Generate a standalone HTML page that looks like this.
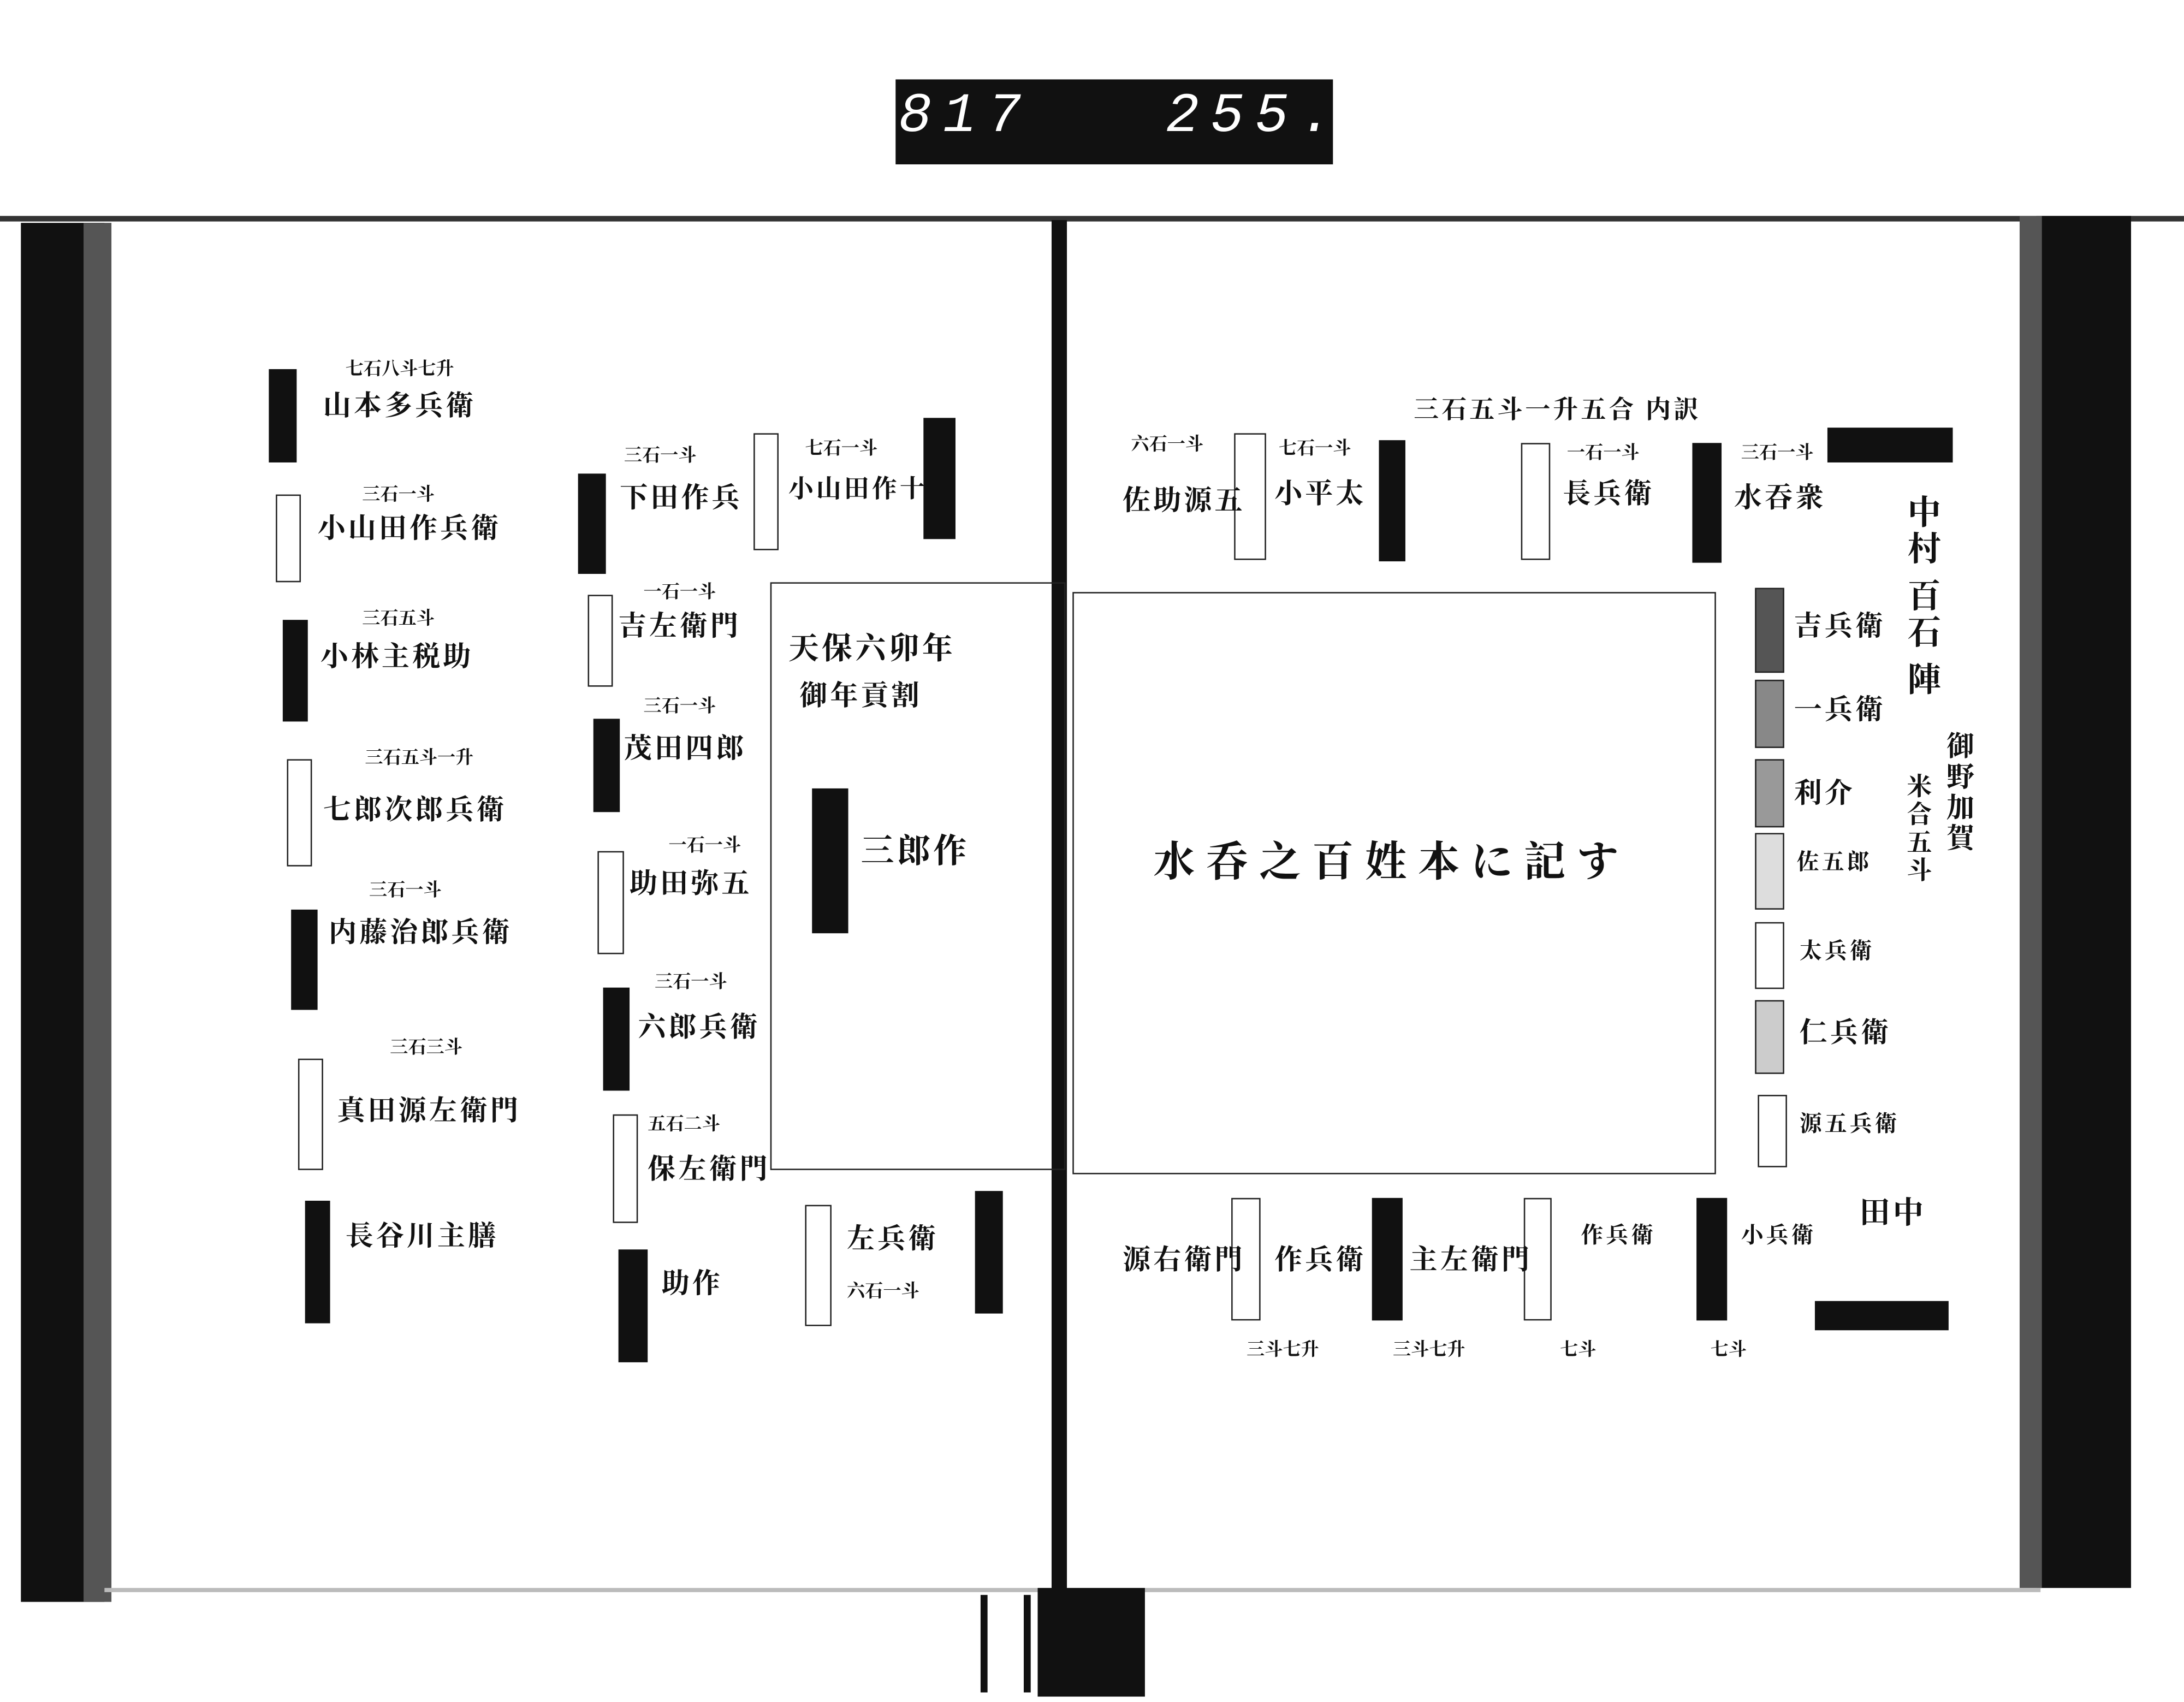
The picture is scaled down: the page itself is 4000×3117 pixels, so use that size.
<!DOCTYPE html>
<html><head><meta charset="utf-8">
<style>
html,body{margin:0;padding:0;background:#fff;}
body{width:4000px;height:3117px;overflow:hidden;position:relative;}
#w{position:absolute;left:0;top:0;width:1568px;height:1222px;transform:scale(2.551);transform-origin:0 0;font-family:"Liberation Serif","Noto Serif CJK SC","Noto Sans CJK JP",serif;color:#111;font-weight:bold;}
.a{position:absolute;}
.b{position:absolute;background:#111;}
.o{position:absolute;border:1.5px solid #222;background:#fff;box-sizing:border-box;}
.g{position:absolute;border:1.5px solid #222;background:#999;box-sizing:border-box;}
.t{position:absolute;font-size:20px;white-space:nowrap;line-height:1;letter-spacing:2px;}
.s{position:absolute;font-size:13px;white-space:nowrap;line-height:1;}
</style></head><body><div id="w">
<div class="b" style="left:643px;top:57px;width:314px;height:61px;"></div>
<div class="a" style="left:645px;top:62px;width:310px;color:#fff;font-family:'Liberation Mono',monospace;font-size:40px;font-style:italic;letter-spacing:8px;font-weight:normal;">817&nbsp;&nbsp;&nbsp;255.</div>
<div class="b" style="left:0;top:155px;width:1568px;height:4px;background:#333;"></div>
<div class="b" style="left:15px;top:160px;width:60px;height:990px;"></div>
<div class="a" style="left:60px;top:160px;width:20px;height:990px;background:#555;"></div>
<div class="b" style="left:1462px;top:155px;width:68px;height:985px;"></div>
<div class="a" style="left:1450px;top:155px;width:16px;height:985px;background:#555;"></div>
<div class="a" style="left:75px;top:1140px;width:1390px;height:3px;background:#bbb;"></div>
<div class="b" style="left:755px;top:158px;width:11px;height:990px;"></div>
<div class="b" style="left:745px;top:1140px;width:77px;height:78px;"></div>
<div class="b" style="left:704px;top:1145px;width:5px;height:70px;"></div>
<div class="b" style="left:735px;top:1145px;width:5px;height:70px;"></div>
<div class="a" style="left:553px;top:418px;width:212px;height:422px;border:1.5px solid #222;box-sizing:border-box;"></div>
<div class="a" style="left:770px;top:425px;width:462px;height:418px;border:1.5px solid #222;box-sizing:border-box;"></div>
<div class="t" style="left:828px;top:605px;font-size:30px;letter-spacing:8px;">水呑之百姓本に記す</div>
<div class="t" style="left:566px;top:455px;font-size:22px;">天保六卯年</div>
<div class="t" style="left:574px;top:490px;font-size:20px;">御年貢割</div>
<div class="t" style="left:618px;top:600px;font-size:24px;">三郎作</div>

<div class="b" style="left:193px;top:265px;width:20px;height:67px;"></div>
<div class="o" style="left:198px;top:355px;width:18px;height:63px;"></div>
<div class="b" style="left:203px;top:445px;width:18px;height:73px;"></div>
<div class="o" style="left:206px;top:545px;width:18px;height:77px;"></div>
<div class="b" style="left:209px;top:653px;width:19px;height:72px;"></div>
<div class="o" style="left:214px;top:760px;width:18px;height:80px;"></div>
<div class="b" style="left:219px;top:862px;width:18px;height:88px;"></div>
<div class="s" style="left:248px;top:258px;">七石八斗七升</div><div class="t" style="left:232px;top:282px;">山本多兵衛</div>
<div class="s" style="left:260px;top:348px;">三石一斗</div><div class="t" style="left:228px;top:370px;">小山田作兵衛</div>
<div class="s" style="left:260px;top:437px;">三石五斗</div><div class="t" style="left:230px;top:462px;">小林主税助</div>
<div class="s" style="left:262px;top:537px;">三石五斗一升</div><div class="t" style="left:232px;top:572px;">七郎次郎兵衛</div>
<div class="s" style="left:265px;top:632px;">三石一斗</div><div class="t" style="left:236px;top:660px;">内藤治郎兵衛</div>
<div class="s" style="left:280px;top:745px;">三石三斗</div><div class="t" style="left:242px;top:788px;">真田源左衛門</div>
<div class="t" style="left:248px;top:878px;">長谷川主膳</div>
<div class="b" style="left:415px;top:340px;width:20px;height:72px;"></div>
<div class="o" style="left:422px;top:427px;width:18px;height:66px;"></div>
<div class="b" style="left:426px;top:516px;width:19px;height:67px;"></div>
<div class="o" style="left:429px;top:611px;width:19px;height:74px;"></div>
<div class="b" style="left:433px;top:709px;width:19px;height:74px;"></div>
<div class="o" style="left:440px;top:800px;width:18px;height:78px;"></div>
<div class="b" style="left:444px;top:897px;width:21px;height:81px;"></div>
<div class="s" style="left:448px;top:320px;">三石一斗</div><div class="t" style="left:445px;top:348px;">下田作兵</div>
<div class="s" style="left:462px;top:418px;">一石一斗</div><div class="t" style="left:444px;top:440px;">吉左衛門</div>
<div class="s" style="left:462px;top:500px;">三石一斗</div><div class="t" style="left:448px;top:528px;">茂田四郎</div>
<div class="s" style="left:480px;top:600px;">一石一斗</div><div class="t" style="left:452px;top:625px;">助田弥五</div>
<div class="s" style="left:470px;top:698px;">三石一斗</div><div class="t" style="left:458px;top:728px;">六郎兵衛</div>
<div class="s" style="left:465px;top:800px;">五石二斗</div><div class="t" style="left:465px;top:830px;">保左衛門</div>
<div class="t" style="left:475px;top:912px;">助作</div>
<div class="o" style="left:541px;top:311px;width:18px;height:84px;"></div>
<div class="b" style="left:663px;top:300px;width:23px;height:87px;"></div>
<div class="b" style="left:583px;top:566px;width:26px;height:104px;"></div>
<div class="o" style="left:578px;top:865px;width:19px;height:87px;"></div>
<div class="b" style="left:700px;top:855px;width:20px;height:88px;"></div>
<div class="s" style="left:578px;top:315px;">七石一斗</div><div class="t" style="left:566px;top:342px;font-size:18px;">小山田作十</div>
<div class="t" style="left:608px;top:880px;">左兵衛</div><div class="s" style="left:608px;top:920px;">六石一斗</div>

<div class="o" style="left:886px;top:311px;width:23px;height:91px;"></div>
<div class="b" style="left:990px;top:316px;width:19px;height:87px;"></div>
<div class="o" style="left:1092px;top:318px;width:21px;height:84px;"></div>
<div class="b" style="left:1215px;top:318px;width:21px;height:86px;"></div>
<div class="b" style="left:1312px;top:307px;width:90px;height:25px;"></div>
<div class="s" style="left:812px;top:312px;">六石一斗</div><div class="t" style="left:806px;top:350px;">佐助源五</div>
<div class="s" style="left:918px;top:315px;">七石一斗</div><div class="t" style="left:915px;top:345px;">小平太</div>
<div class="t" style="left:1015px;top:285px;font-size:18px;">三石五斗一升五合 内訳</div>
<div class="s" style="left:1125px;top:318px;">一石一斗</div><div class="t" style="left:1122px;top:345px;">長兵衛</div>
<div class="s" style="left:1250px;top:318px;">三石一斗</div><div class="t" style="left:1245px;top:348px;">水吞衆</div>
<div class="t" style="left:1366px;top:355px;font-size:24px;writing-mode:vertical-rl;">中村 百石 陣</div>
<div class="t" style="left:1395px;top:525px;font-size:20px;writing-mode:vertical-rl;">御野加賀</div>
<div class="t" style="left:1368px;top:555px;font-size:18px;writing-mode:vertical-rl;">米合五斗</div>
<div class="g" style="left:1260px;top:422px;width:21px;height:61px;background:#555;"></div>
<div class="g" style="left:1260px;top:488px;width:21px;height:49px;background:#888;"></div>
<div class="g" style="left:1260px;top:545px;width:21px;height:49px;background:#999;"></div>
<div class="g" style="left:1260px;top:598px;width:21px;height:55px;background:#ddd;"></div>
<div class="o" style="left:1260px;top:662px;width:21px;height:48px;"></div>
<div class="g" style="left:1260px;top:718px;width:21px;height:53px;background:#ccc;"></div>
<div class="o" style="left:1262px;top:786px;width:21px;height:52px;"></div>
<div class="t" style="left:1288px;top:440px;">吉兵衛</div>
<div class="t" style="left:1288px;top:500px;">一兵衛</div>
<div class="t" style="left:1288px;top:560px;">利介</div>
<div class="t" style="left:1290px;top:612px;font-size:16px;">佐五郎</div>
<div class="t" style="left:1292px;top:676px;font-size:16px;">太兵衛</div>
<div class="t" style="left:1292px;top:732px;">仁兵衛</div>
<div class="t" style="left:1292px;top:800px;font-size:16px;">源五兵衛</div>
<div class="o" style="left:884px;top:860px;width:21px;height:88px;"></div>
<div class="b" style="left:985px;top:860px;width:22px;height:88px;"></div>
<div class="o" style="left:1094px;top:860px;width:20px;height:88px;"></div>
<div class="b" style="left:1218px;top:860px;width:22px;height:88px;"></div>
<div class="b" style="left:1303px;top:934px;width:96px;height:21px;"></div>
<div class="t" style="left:806px;top:895px;">源右衛門</div>
<div class="t" style="left:915px;top:895px;">作兵衛</div>
<div class="t" style="left:1012px;top:895px;">主左衛門</div>
<div class="t" style="left:1135px;top:880px;font-size:16px;">作兵衛</div>
<div class="t" style="left:1250px;top:880px;font-size:16px;">小兵衛</div>
<div class="t" style="left:1335px;top:860px;font-size:22px;">田中</div>
<div class="s" style="left:895px;top:962px;">三斗七升</div>
<div class="s" style="left:1000px;top:962px;">三斗七升</div>
<div class="s" style="left:1120px;top:962px;">七斗</div>
<div class="s" style="left:1228px;top:962px;">七斗</div>
</div></body></html>
